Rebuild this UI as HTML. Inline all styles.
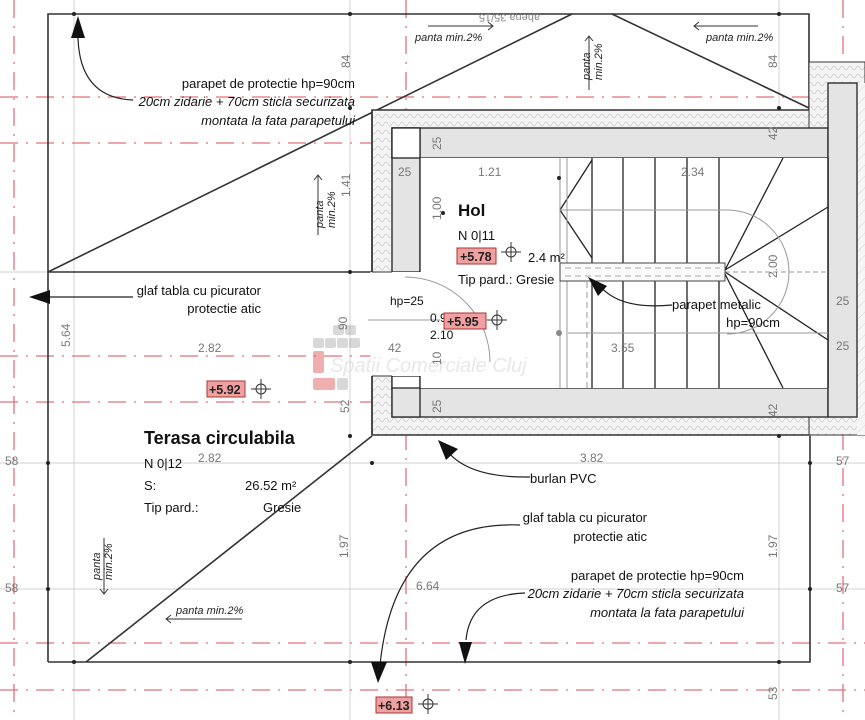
<!DOCTYPE html>
<html><head><meta charset="utf-8"><style>
html,body{margin:0;padding:0;background:#fff;width:865px;height:720px;overflow:hidden}
svg{display:block;font-family:"Liberation Sans",sans-serif}
.d{fill:#777;font-size:12px}
.t{fill:#111;font-size:13px}
.i{fill:#111;font-size:13px;font-style:italic}
.pi{fill:#222;font-size:11px;font-style:italic}
</style></head><body>
<svg width="865" height="720" viewBox="0 0 865 720" xmlns="http://www.w3.org/2000/svg">
<defs>
<pattern id="ins" width="8" height="8" patternUnits="userSpaceOnUse"><rect width="8" height="8" fill="#f4f4f4"/><path d="M0 4 Q2 0 4 4 Q6 8 8 4" fill="none" stroke="#ccc" stroke-width="0.7"/></pattern>
<pattern id="hat" width="8" height="8" patternUnits="userSpaceOnUse" patternTransform="rotate(45)"><rect width="8" height="8" fill="#f6f6f6"/><line x1="0" y1="0" x2="0" y2="8" stroke="#ccc" stroke-width="0.8"/></pattern>
</defs>
<!-- gray grid -->
<g stroke="#d0d0d0" stroke-width="1">
<line x1="74" y1="0" x2="74" y2="720"/><line x1="350" y1="0" x2="350" y2="720"/><line x1="779" y1="0" x2="779" y2="720"/>
<line x1="0" y1="272" x2="865" y2="272" /><line x1="0" y1="463" x2="865" y2="463"/><line x1="0" y1="589" x2="865" y2="589"/>
</g>
<!-- red dashed -->
<g stroke="#e0707a" stroke-width="1.3" stroke-dasharray="18,8,2,8">
<line x1="0" y1="97" x2="865" y2="97"/><line x1="0" y1="143" x2="865" y2="143"/><line x1="0" y1="356" x2="865" y2="356"/>
<line x1="0" y1="402" x2="865" y2="402"/><line x1="0" y1="643" x2="865" y2="643"/><line x1="0" y1="690" x2="865" y2="690"/>
<line x1="14" y1="0" x2="14" y2="720"/><line x1="406" y1="0" x2="406" y2="720"/><line x1="843" y1="0" x2="843" y2="720"/>
</g>
<!-- terrace outlines -->
<g stroke="#333" stroke-width="1.6" fill="none">
<polyline points="48,662 48,14 809,14 809,110"/>
<line x1="48" y1="272" x2="372" y2="272"/>
<line x1="48" y1="272" x2="572" y2="14"/>
<line x1="612" y1="14" x2="809" y2="108"/>
<polyline points="48,662 810,662 810,436"/>
<line x1="86" y1="662" x2="372" y2="436"/>
</g>
<!-- building block -->
<rect x="372" y="110" width="438" height="325" fill="url(#ins)" stroke="#333" stroke-width="1.5"/>
<rect x="809" y="62" width="56" height="373" fill="url(#ins)" stroke="#333" stroke-width="1"/>
<rect x="857" y="83" width="8" height="352" fill="url(#hat)"/>
<rect x="392" y="128" width="436" height="30" fill="#e4e4e4" stroke="#222" stroke-width="1.3"/>
<rect x="392" y="388" width="436" height="29" fill="#e4e4e4" stroke="#222" stroke-width="1.3"/>
<rect x="828" y="83" width="29" height="334" fill="#e4e4e4" stroke="#222" stroke-width="1.3"/>
<rect x="392" y="128" width="28" height="144" fill="#e4e4e4" stroke="#222" stroke-width="1.3"/>
<rect x="392" y="128" width="28" height="30" fill="#fff" stroke="#222" stroke-width="1.3"/>
<rect x="392" y="376" width="28" height="41" fill="#e4e4e4" stroke="#222" stroke-width="1.3"/>
<rect x="392" y="376" width="28" height="12" fill="#fff" stroke="#222" stroke-width="1.3"/>
<rect x="420" y="158" width="408" height="230" fill="#fff"/>
<rect x="392" y="272" width="28" height="104" fill="#fff"/>
<line x1="420" y1="158" x2="420" y2="272" stroke="#222" stroke-width="1.3"/>
<line x1="420" y1="376" x2="420" y2="388" stroke="#222" stroke-width="1.3"/>
<line x1="828" y1="158" x2="828" y2="388" stroke="#222" stroke-width="1.5"/>
<line x1="372" y1="272" x2="372" y2="376" stroke="#fff" stroke-width="3"/>
<rect x="372" y="272" width="20" height="104" fill="#fff"/>
<line x1="372" y1="272" x2="392" y2="272" stroke="#333"/><line x1="372" y1="376" x2="392" y2="376" stroke="#333"/>
<line x1="372" y1="110" x2="372" y2="272" stroke="#333" stroke-width="1.5"/><line x1="372" y1="376" x2="372" y2="435" stroke="#333" stroke-width="1.5"/>
<!-- stairs -->
<g stroke="#222" stroke-width="1.3" fill="none">
<line x1="592" y1="158" x2="592" y2="388"/><line x1="623" y1="158" x2="623" y2="388"/><line x1="655" y1="158" x2="655" y2="388"/>
<line x1="687" y1="158" x2="687" y2="388"/><line x1="719" y1="158" x2="719" y2="388"/>
<polyline points="592,160 560,210 592,258"/>
<line x1="725" y1="270" x2="783" y2="158"/><line x1="725" y1="270" x2="828" y2="207"/>
<line x1="725" y1="272" x2="828" y2="340"/><line x1="725" y1="274" x2="783" y2="388"/>
</g>
<g stroke="#999" stroke-width="1" fill="none">
<line x1="560" y1="158" x2="560" y2="388"/><line x1="567" y1="158" x2="567" y2="388"/>
<line x1="560" y1="210" x2="727" y2="210"/><line x1="568" y1="333" x2="828" y2="333"/>
<line x1="725" y1="272" x2="828" y2="272" stroke-dasharray="5,3"/>
<path d="M727 210 A62 62 0 0 1 727 334"/>
<line x1="587" y1="282" x2="587" y2="388" stroke-dasharray="6,4"/>
<path d="M405 277 A85 85 0 0 1 490 362"/>
<line x1="368" y1="320" x2="440" y2="320"/>
</g>
<rect x="560" y="263" width="165" height="18" fill="#fafafa" stroke="#444" stroke-width="1"/>
<line x1="565" y1="268" x2="720" y2="268" stroke="#aaa" stroke-dasharray="6,4"/><line x1="565" y1="276" x2="720" y2="276" stroke="#aaa" stroke-dasharray="6,4"/>
<circle cx="559" cy="333" r="3" fill="#888"/>
<!-- watermark -->
<g opacity="0.45">
<rect x="333" y="325" width="11" height="10" rx="2" fill="#aaa"/><rect x="345" y="325" width="11" height="10" rx="2" fill="#aaa"/>
<rect x="313" y="338" width="11" height="10" rx="2" fill="#aaa"/><rect x="325" y="338" width="11" height="10" rx="2" fill="#aaa"/><rect x="337" y="338" width="11" height="10" rx="2" fill="#aaa"/><rect x="349" y="338" width="11" height="10" rx="2" fill="#aaa"/>
<rect x="313" y="351" width="11" height="22" rx="2" fill="#e05050"/><rect x="313" y="378" width="22" height="12" rx="2" fill="#e05050"/><rect x="337" y="378" width="11" height="12" rx="2" fill="#aaa"/>
<text x="330" y="372" font-size="20" font-style="italic" fill="#ccc">Spatii Comerciale Cluj</text>
</g>
<!-- arrows -->
<g stroke="#222" stroke-width="1.2" fill="none">
<path d="M133 100 Q80 98 78 38"/>
<line x1="133" y1="297" x2="45" y2="297"/>
<path d="M672 305 Q620 310 600 286"/>
<path d="M530 477 Q470 478 448 452"/>
<path d="M520 525 Q395 520 380 665"/>
<path d="M525 593 Q470 595 466 640"/>
</g>
<g fill="#111">
<polygon points="78,16 71,38 85,38"/>
<polygon points="29,297 50,290 50,304"/>
<polygon points="588,277 607,286 598,296"/>
<polygon points="438,440 458,449 446,460"/>
<polygon points="378,683 371,662 387,662"/>
<polygon points="465,664 459,642 472,642"/>
</g>
<!-- dots -->
<g fill="#222">
<circle cx="74" cy="14" r="2"/><circle cx="350" cy="14" r="2"/><circle cx="779" cy="14" r="2"/><circle cx="350" cy="272" r="2"/><circle cx="350" cy="108" r="2"/><circle cx="779" cy="108" r="2"/>
<circle cx="74" cy="662" r="2"/><circle cx="350" cy="662" r="2"/><circle cx="779" cy="662" r="2"/><circle cx="48" cy="463" r="2"/><circle cx="48" cy="589" r="2"/>
<circle cx="810" cy="463" r="2"/><circle cx="810" cy="589" r="2"/><circle cx="350" cy="436" r="2"/><circle cx="372" cy="463" r="2"/><circle cx="779" cy="436" r="2"/>
<circle cx="559" cy="178" r="2"/><circle cx="443" cy="213" r="2"/>
</g>
<!-- texts top -->
<text class="t" x="355" y="88" text-anchor="end">parapet de protectie hp=90cm</text>
<text class="i" x="355" y="106" text-anchor="end">20cm zidarie + 70cm sticla securizata</text>
<text class="i" x="355" y="125" text-anchor="end">montata la fata parapetului</text>
<text class="t" x="261" y="295" text-anchor="end">glaf tabla cu picurator</text>
<text class="t" x="261" y="313" text-anchor="end">protectie atic</text>
<text class="pi" x="415" y="41">panta min.2%</text><line x1="428" y1="26" x2="493" y2="26" stroke="#333"/><polyline points="488,22 493,26 488,30" fill="none" stroke="#333"/>
<text class="pi" x="706" y="41">panta min.2%</text><line x1="694" y1="26" x2="758" y2="26" stroke="#333"/><polyline points="699,22 694,26 699,30" fill="none" stroke="#333"/>
<text x="590" y="22" font-size="11" fill="#888" transform="rotate(180 565 18)">ahena 35/15</text>
<g transform="translate(590,80) rotate(-90)"><text class="pi" x="0" y="0">panta</text><text class="pi" x="0" y="12">min.2%</text></g>
<line x1="589" y1="90" x2="589" y2="36" stroke="#333"/><polyline points="585,41 589,36 593,41" fill="none" stroke="#333"/>
<g transform="translate(323,228) rotate(-90)"><text class="pi" x="0" y="0">panta</text><text class="pi" x="0" y="12">min.2%</text></g>
<line x1="318" y1="235" x2="318" y2="175" stroke="#333"/><polyline points="314,180 318,175 322,180" fill="none" stroke="#333"/>
<text class="d" transform="translate(350,68) rotate(-90)">84</text>
<text class="d" transform="translate(777,68) rotate(-90)">84</text>
<text class="d" transform="translate(350,197) rotate(-90)">1.41</text>
<text class="d" transform="translate(70,347) rotate(-90)">5.64</text>
<text class="d" x="198" y="352">2.82</text>
<text class="d" x="388" y="352">42</text>
<text class="d" transform="translate(347,330) rotate(-90)">90</text>
<!-- hol -->
<text class="d" x="398" y="176">25</text>
<text class="d" transform="translate(441,150) rotate(-90)">25</text>
<text class="d" x="478" y="176">1.21</text>
<text class="d" x="681" y="176">2.34</text>
<text class="d" transform="translate(441,220) rotate(-90)">1.00</text>
<text class="d" transform="translate(777,140) rotate(-90)">42</text>
<text class="d" transform="translate(777,417) rotate(-90)">42</text>
<text class="d" transform="translate(777,278) rotate(-90)">2.00</text>
<text class="d" x="836" y="305">25</text>
<text class="d" x="836" y="350">25</text>
<text class="d" x="611" y="352">3.55</text>
<text class="d" transform="translate(441,413) rotate(-90)">25</text>
<text class="d" transform="translate(441,365) rotate(-90)">10</text>
<text class="d" transform="translate(349,413) rotate(-90)">52</text>
<text x="458" y="216" font-size="17" font-weight="bold" fill="#111">Hol</text>
<text class="t" x="458" y="240">N 0|11</text>
<text class="t" x="458" y="262">S:</text>
<text x="528" y="262" font-size="13" fill="#111">2.4 m²</text>
<text class="t" x="458" y="284">Tip pard.: Gresie</text>
<rect x="457" y="248" width="39" height="16" fill="#f0a0a0" stroke="#a33"/>
<text x="460" y="261" font-size="12.5" font-weight="bold" fill="#222">+5.78</text>
<text x="390" y="305" font-size="12" fill="#111">hp=25</text>
<text x="430" y="322" font-size="12" fill="#111">0.90</text>
<text x="430" y="339" font-size="12" fill="#111">2.10</text>
<rect x="444" y="313" width="42" height="16" fill="#f0a0a0" stroke="#a33"/>
<text x="447" y="326" font-size="12.5" font-weight="bold" fill="#222">+5.95</text>
<text class="t" x="672" y="309">parapet metalic</text>
<text class="t" x="780" y="327" text-anchor="end">hp=90cm</text>
<!-- crosshairs -->
<g stroke="#333" fill="none">
<circle cx="511" cy="252" r="5"/><line x1="501" y1="252" x2="521" y2="252"/><line x1="511" y1="242" x2="511" y2="262"/>
<circle cx="497" cy="320" r="5"/><line x1="487" y1="320" x2="507" y2="320"/><line x1="497" y1="310" x2="497" y2="330"/>
<circle cx="261" cy="389" r="5"/><line x1="251" y1="389" x2="271" y2="389"/><line x1="261" y1="379" x2="261" y2="399"/>
<circle cx="428" cy="704" r="5"/><line x1="418" y1="704" x2="438" y2="704"/><line x1="428" y1="694" x2="428" y2="714"/>
</g>
<rect x="207" y="381" width="38" height="16" fill="#f0a0a0" stroke="#a33"/>
<text x="209" y="394" font-size="12.5" font-weight="bold" fill="#222">+5.92</text>
<rect x="376" y="697" width="36" height="16" fill="#f0a0a0" stroke="#a33"/>
<text x="378" y="710" font-size="12.5" font-weight="bold" fill="#222">+6.13</text>
<!-- terrace -->
<text x="144" y="444" font-size="18" font-weight="bold" fill="#111">Terasa circulabila</text>
<text class="t" x="144" y="468">N 0|12</text>
<text class="d" x="198" y="462">2.82</text>
<text class="t" x="144" y="490">S:</text>
<text class="t" x="245" y="490">26.52 m²</text>
<text class="t" x="144" y="512">Tip pard.:</text>
<text class="t" x="263" y="512">Gresie</text>
<text class="d" x="580" y="462">3.82</text>
<text class="t" x="530" y="483">burlan PVC</text>
<text class="d" x="5" y="465">58</text><text class="d" x="5" y="592">58</text>
<text class="d" x="836" y="465">57</text><text class="d" x="836" y="592">57</text>
<text class="t" x="647" y="522" text-anchor="end">glaf tabla cu picurator</text>
<text class="t" x="647" y="541" text-anchor="end">protectie atic</text>
<text class="d" transform="translate(348,558) rotate(-90)">1.97</text>
<text class="d" transform="translate(777,558) rotate(-90)">1.97</text>
<text class="d" transform="translate(777,700) rotate(-90)">53</text>
<text class="d" x="416" y="590">6.64</text>
<text class="t" x="744" y="580" text-anchor="end">parapet de protectie hp=90cm</text>
<text class="i" x="744" y="598" text-anchor="end">20cm zidarie + 70cm sticla securizata</text>
<text class="i" x="744" y="617" text-anchor="end">montata la fata parapetului</text>
<g transform="translate(100,580) rotate(-90)"><text class="pi" x="0" y="0">panta</text><text class="pi" x="0" y="12">min.2%</text></g>
<line x1="104" y1="538" x2="104" y2="594" stroke="#333"/><polyline points="100,589 104,594 108,589" fill="none" stroke="#333"/>
<text class="pi" x="176" y="614">panta min.2%</text>
<line x1="166" y1="619" x2="242" y2="619" stroke="#333"/><polyline points="171,615 166,619 171,623" fill="none" stroke="#333"/>
</svg>
</body></html>
